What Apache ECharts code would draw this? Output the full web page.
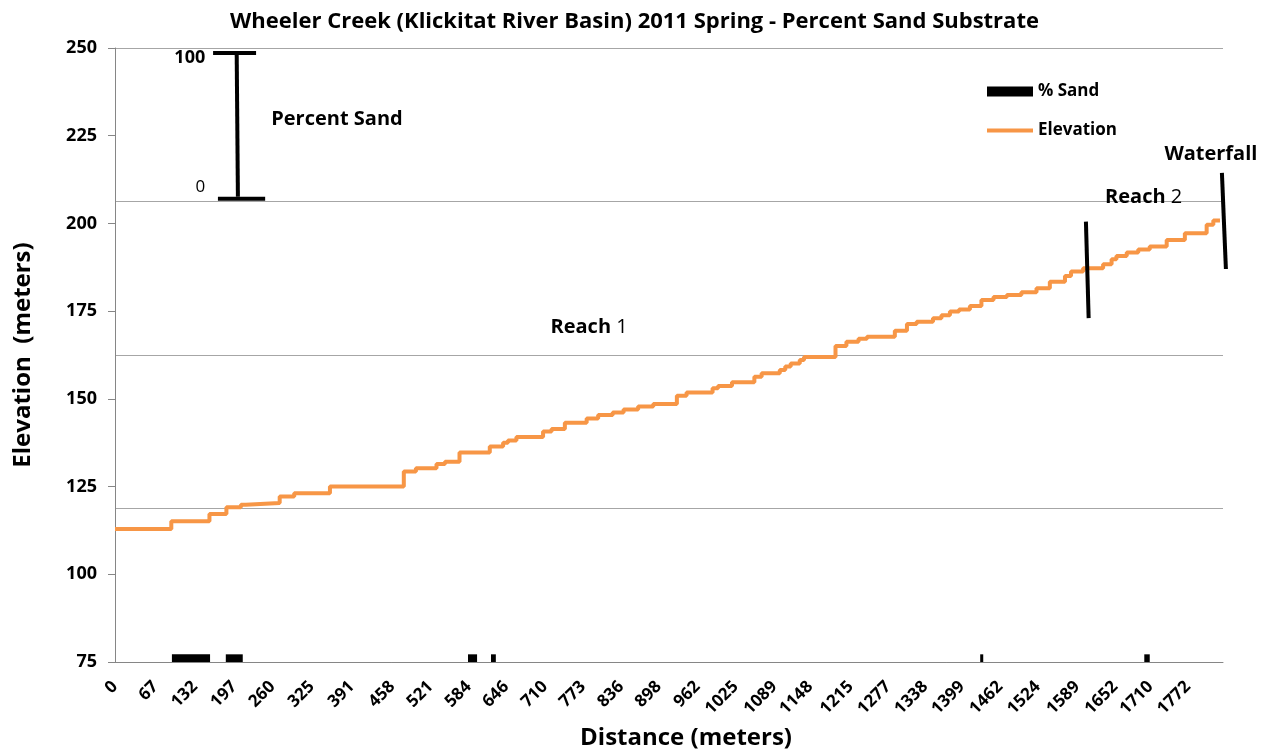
<!DOCTYPE html>
<html>
<head>
<meta charset="utf-8">
<script src="https://cdn.jsdelivr.net/npm/echarts@6/dist/echarts.min.js"></script>
<style>html,body{margin:0;padding:0;background:#fff}#c{width:1269px;height:751px}</style>
</head>
<body>
<div id="c"></div>
<script>
// ---- data ----
var distanceTicks = [0,67,132,197,260,325,391,458,521,584,646,710,773,836,898,962,1025,1089,1148,1215,1277,1338,1399,1462,1524,1589,1652,1710,1772];
// step starts (meters) and elevation (m) of each level
var stepDistance = [0,93,156,184,208,216,272,296,355,477,497,531,545,569,619,641,649,663,707,721,743,779,798,822,840,864,889,928,944,987,996,1019,1056,1068,1098,1107,1116,1131,1138,1190,1208,1228,1242,1288,1308,1324,1351,1365,1379,1394,1412,1431,1451,1473,1497,1522,1544,1569,1579,1599,1632,1646,1654,1671,1690,1709,1737,1767,1803,1814,1825];
var stepElevation = [112.9,115.1,117.2,119.1,119.8,120.3,122.2,123.1,125.0,129.3,130.2,131.4,132.1,134.7,136.4,137.5,138.1,139.1,140.7,141.4,143.2,144.4,145.4,146.1,147.0,147.8,148.5,150.9,151.8,153.0,153.7,154.7,156.3,157.3,158.2,159.2,160.1,161.1,161.9,165.1,166.3,167.1,167.7,169.4,171.3,172.0,173.0,173.8,174.9,175.5,176.5,178.2,179.0,179.6,180.4,181.5,183.4,185.0,186.3,187.2,188.4,189.8,190.7,191.7,192.6,193.4,195.3,197.2,199.6,200.8,200.8];
var sandStart = [94,183,583,621,1429,1700];
var sandEnd   = [157,211,598,629,1434,1709];
var sandPct   = [5,5,5,5,5,5];

var FONT = 'Open Sans';
var chart = echarts.init(document.getElementById('c'));

var elevData = stepDistance.map(function(d,i){return [d, stepElevation[i]];});
var sandData = sandStart.map(function(s,i){return [s, sandEnd[i], sandPct[i]];});

chart.setOption({
  animation: false,
  backgroundColor: '#fff',
  textStyle: {fontFamily: FONT},
  title: {
    text: 'Wheeler Creek (Klickitat River Basin) 2011 Spring - Percent Sand Substrate',
    left: 'center', top: 6,
    textStyle: {fontFamily: FONT, fontWeight: 'bold', fontSize: 22, color: '#000'}
  },
  legend: {
    orient: 'vertical', left: 985, top: 83, itemGap: 22, padding: 0,
    itemWidth: 46, itemHeight: 10,
    textStyle: {fontFamily: FONT, fontWeight: 'bold', fontSize: 17, color: '#000'},
    data: [
      {name: '% Sand', icon: 'rect'},
      {name: 'Elevation', itemStyle: {opacity: 0}, lineStyle: {width: 4, color: '#F79646'}}
    ]
  },
  grid: {left: 115, right: 46, top: 48, bottom: 89, outerBoundsMode: 'none', containLabel: false},
  xAxis: {
    type: 'value', min: 0, max: 1830,
    name: 'Distance (meters)', nameLocation: 'middle', nameGap: 64,
    nameTextStyle: {fontFamily: FONT, fontWeight: 'bold', fontSize: 24, color: '#000', padding: [0, 0, 0, 34]},
    axisLine: {show: true, lineStyle: {color: '#868686', width: 1}},
    axisTick: {show: false},
    splitLine: {show: false},
    axisLabel: {
      customValues: distanceTicks, rotate: 45, margin: 22,
      formatter: function(v){ return String(v); },
      fontFamily: FONT, fontWeight: 'bold', fontSize: 17, color: '#000'
    }
  },
  yAxis: [{
    type: 'value', min: 75, max: 250, interval: 25,
    name: 'Elevation  (meters)', nameLocation: 'middle', nameGap: 80,
    nameTextStyle: {fontFamily: FONT, fontWeight: 'bold', fontSize: 24, color: '#000'},
    axisLine: {show: true, lineStyle: {color: '#868686', width: 1}},
    axisTick: {show: true, length: 7, lineStyle: {color: '#868686'}},
    splitLine: {show: false},
    axisLabel: {margin: 18, fontFamily: FONT, fontWeight: 'bold', fontSize: 18, color: '#000'}
  }, {
    type: 'value', min: 0, max: 400, interval: 100, position: 'right',
    axisLine: {show: false}, axisTick: {show: false}, axisLabel: {show: false},
    splitLine: {show: true, lineStyle: {color: '#a6a6a6', width: 1}}
  }],
  series: [{
    name: '% Sand', type: 'custom', yAxisIndex: 1,
    itemStyle: {color: '#000'},
    encode: {x: [0, 1], y: 2},
    renderItem: function(params, api){
      var p0 = api.coord([api.value(0), 0]);
      var p1 = api.coord([api.value(1), api.value(2)]);
      return {type: 'rect', shape: {x: p0[0], y: p1[1], width: p1[0]-p0[0], height: p0[1]-p1[1]},
              style: {fill: '#000'}};
    },
    data: sandData, z: 3
  }, {
    name: 'Elevation', type: 'line', step: 'end', symbol: 'none', showSymbol: false,
    lineStyle: {color: '#F79646', width: 4}, itemStyle: {color: '#F79646'},
    data: elevData, z: 4
  }]
});

// ---- annotations, placed in data coordinates (distance, elevation) ----
function P(d, e){ return chart.convertToPixel({xAxisIndex: 0, yAxisIndex: 0}, [d, e]); }
function seg(a, b, w){
  var p = P(a[0], a[1]), q = P(b[0], b[1]);
  return {type: 'line', shape: {x1: p[0], y1: p[1], x2: q[0], y2: q[1]}, style: {stroke: '#000', lineWidth: w}, z: 10};
}
function txt(d, e, s, align, bold, size){
  var p = P(d, e);
  return {type: 'text', x: p[0], y: p[1], z: 10,
    style: {text: s, align: align, verticalAlign: 'middle', fill: '#000',
      font: (bold ? 'bold ' : '') + size + 'px "' + FONT + '"'}};
}
function rich(d, e, a, b){
  var p = P(d, e);
  return {type: 'text', x: p[0], y: p[1], z: 10,
    style: {text: '{a|' + a + '}{b|' + b + '}', align: 'center', verticalAlign: 'middle',
      rich: {a: {fontFamily: FONT, fontWeight: 'bold', fontSize: 20, fill: '#000'},
             b: {fontFamily: FONT, fontWeight: 'normal', fontSize: 20, fill: '#000'}}}};
}
chart.setOption({graphic: [
  seg([201, 248.3], [203, 207.6], 4),
  seg([162, 248.6], [233, 248.6], 4),
  seg([170, 207.0], [248, 207.0], 4),
  txt(149, 247.2, '100', 'right', true, 18),
  txt(149, 210.2, '0', 'right', false, 17),
  txt(258, 229.8, 'Percent Sand', 'left', true, 20),
  rich(783, 170.5, 'Reach ', '1'),
  rich(1699, 207.5, 'Reach ', '2'),
  txt(1810, 219.8, 'Waterfall', 'center', true, 20),
  seg([1603.6, 200.5], [1608.1, 173.0], 4),
  seg([1828.2, 214.4], [1834.8, 187.0], 4)
]});
</script>
</body>
</html>
